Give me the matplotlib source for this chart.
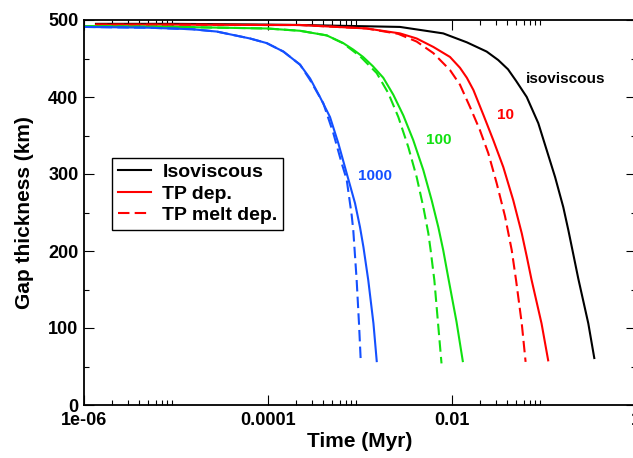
import numpy as np
import matplotlib
matplotlib.use("Agg")
import matplotlib.pyplot as plt
from matplotlib.ticker import FixedLocator, FixedFormatter

plt.rcParams['font.family'] = ['Liberation Sans', 'DejaVu Sans']
plt.rcParams['font.weight'] = 'bold'

# Time (Myr) / gap thickness (km)
t_iso = [1.35e-6, 1e-5, 1e-4, 2.23e-4, 2.72e-3, 8.03e-3, 1.45e-2, 2.38e-2, 3.18e-2,
         4.06e-2, 4.97e-2, 6.49e-2, 8.67e-2, 0.107, 0.132, 0.162, 0.184, 0.208,
         0.236, 0.303, 0.352]
y_iso = [495, 495, 494, 493.5, 491, 482.6, 471, 459, 448,
         436, 421, 400, 366, 331, 296, 257, 227, 196,
         164, 106, 61]

t_10 = [1.35e-6, 1e-5, 1e-4, 2.23e-4, 1.18e-3, 2.72e-3, 4.13e-3, 6.27e-3, 9.51e-3,
        1.22e-2, 1.45e-2, 1.71e-2, 2.19e-2, 2.81e-2, 3.61e-2, 4.63e-2, 5.73e-2,
        6.49e-2, 7.31e-2, 9.4e-2, 0.111]
y_10 = [494, 494, 493.5, 493.5, 489, 482.6, 476, 465, 452,
        438, 425, 409, 377, 344, 309, 266, 223,
        193, 163, 106, 58]
t_10m = [1.35e-6, 1e-5, 1e-4, 2.23e-4, 1.18e-3, 2.6e-3, 4.13e-3, 6.27e-3, 9.51e-3,
         1.22e-2, 1.57e-2, 2.01e-2, 2.48e-2, 3.06e-2, 3.77e-2, 4.46e-2, 4.97e-2,
         5.73e-2, 6.31e-2]
y_10m = [494, 494, 493.5, 493.5, 489, 482, 472, 457, 435,
         416, 387, 357, 327, 288, 245, 201, 162,
         106, 56]

t_100 = [1e-6, 1e-5, 9.68e-5, 2.23e-4, 4.35e-4, 6.57e-4, 8.45e-4, 1.08e-3, 1.38e-3,
         1.79e-3, 2.30e-3, 2.96e-3, 3.79e-3, 4.88e-3, 6.01e-3, 7.1e-3, 8.03e-3,
         9.12e-3, 1.12e-2, 1.31e-2]
y_100 = [492, 491, 489, 486, 480, 470, 461.5, 452, 440,
         425, 403, 376, 344, 305, 266, 231, 201,
         165, 108, 57]
t_100m = [1e-6, 1e-5, 9.68e-5, 2.23e-4, 4.35e-4, 6.5e-4, 1e-3, 1.52e-3, 2.03e-3,
          2.61e-3, 3.35e-3, 4.13e-3, 4.88e-3, 5.53e-3, 5.86e-3, 6.43e-3, 7.03e-3, 7.69e-3]
y_100m = [492, 491, 489, 486, 480, 470, 453, 431, 405,
          374, 335, 296, 257, 223, 201, 162, 108, 54]

t_1000 = [1e-6, 5e-6, 1.5e-5, 2.77e-5, 6.37e-5, 9.68e-5, 1.47e-4, 2.23e-4, 2.87e-4,
          3.67e-4, 4.72e-4, 5.81e-4, 7.16e-4, 8.83e-4, 1e-3, 1.09e-3, 1.23e-3,
          1.4e-3, 1.52e-3]
y_1000 = [491, 490, 488, 485, 476, 470, 459, 442, 424,
          400, 374, 340, 301, 262, 231, 205, 162,
          106, 57]
t_1000m = [1e-6, 5e-6, 1.5e-5, 2.77e-5, 6.37e-5, 9.68e-5, 1.47e-4, 2.23e-4, 2.87e-4,
           3.99e-4, 5.13e-4, 6.32e-4, 7.16e-4, 8.13e-4, 8.45e-4, 9.2e-4, 9.75e-4, 1.02e-3]
y_1000m = [491, 490, 488, 485, 476, 470, 459, 442, 422,
           392, 353, 314, 293, 246, 227, 162, 106, 56]

xticks = [1e-6, 1e-4, 1e-2, 1.0]
xtick_labels = ["1e-06", "0.0001", "0.01", "1"]

blue = '#1450ff'
green = '#10e010'
red = '#ff0000'

fig = plt.figure(figsize=(6.33, 4.58), dpi=100)
ax = fig.add_axes([84 / 633, 53 / 458, 552 / 633, 385 / 458])

lw = 1.5
dash = (0, (5.5, 2.5))
ax.plot(t_iso, y_iso, color='black', lw=lw, label='Isoviscous')
ax.plot(t_10, y_10, color=red, lw=lw, label='TP dep.')
ax.plot(t_10m, y_10m, color=red, lw=lw, ls=dash, label='TP melt dep.')
ax.plot(t_100, y_100, color=green, lw=lw)
ax.plot(t_100m, y_100m, color=green, lw=lw, ls=dash)
ax.plot(t_1000, y_1000, color=blue, lw=lw)
ax.plot(t_1000m, y_1000m, color=blue, lw=lw, ls=dash)

ax.set_xscale('log')
ax.set_xlim(1e-6, 1.0)
ax.set_ylim(0, 500)

ax.xaxis.set_major_locator(FixedLocator(xticks))
ax.xaxis.set_major_formatter(FixedFormatter(xtick_labels))
minors = [k * 10.0 ** e for e in (-6, -4, -2) for k in range(2, 10)]
ax.xaxis.set_minor_locator(FixedLocator(minors))
ax.xaxis.set_minor_formatter(FixedFormatter([''] * len(minors)))
ax.set_yticks(range(0, 501, 100))
ax.set_yticks(range(50, 500, 100), minor=True)

ax.tick_params(which='both', direction='in', top=True, right=True, width=0.8)
ax.tick_params(which='major', length=7, labelsize=13, pad=4)
ax.tick_params(axis='x', which='major', pad=5)
ax.tick_params(which='minor', length=3.6)
for s in ax.spines.values():
    s.set_linewidth(1.3)

ax.set_xlabel('Time (Myr)', fontsize=15, fontweight='bold', labelpad=2)
ax.set_ylabel('Gap thickness (km)', fontsize=15, fontweight='bold', labelpad=10)

ax.text(0.173, 423, 'isoviscous', color='black', fontsize=11, fontweight='bold', ha='center', va='center')
ax.text(0.0377, 377, '10', color=red, fontsize=11, fontweight='bold', ha='center', va='center')
ax.text(0.0071, 344, '100', color=green, fontsize=11, fontweight='bold', ha='center', va='center')
ax.text(1.47e-3, 298, '1000', color=blue, fontsize=11, fontweight='bold', ha='center', va='center')

leg = fig.legend(loc='upper left', bbox_to_anchor=(111.7 / 633, 1 - 157.7 / 458),
                 fontsize=14, frameon=True, fancybox=False, framealpha=1,
                 edgecolor='black', borderpad=0.3, labelspacing=0.2,
                 handlelength=1.7, handletextpad=0.6, borderaxespad=0)
leg.get_frame().set_linewidth(1.0)

fig.savefig('out.png', dpi=100)
